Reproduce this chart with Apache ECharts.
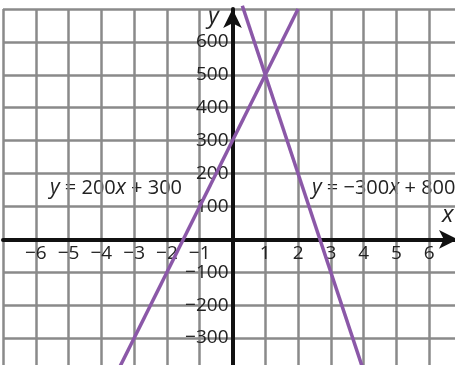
<!DOCTYPE html>
<html>
<head>
<meta charset="utf-8">
<script src="https://cdn.jsdelivr.net/npm/echarts@6/dist/echarts.min.js"></script>
<style>
  html, body { margin: 0; padding: 0; background: #fff; }
  #chart { width: 455px; height: 365px; }
</style>
</head>
<body>
<div id="chart"></div>
<script>
  // 两条直线的数据（从图上读出的端点）
  var line1 = [[-3.5, -400], [2, 700]];      // y = 200x + 300
  var line2 = [[0.3, 710], [4, -400]];       // y = -300x + 800
  var xRange = [-7, 7];
  var yRange = [-400, 700];
  var hiddenX = [0, -7, 7];
  var hiddenY = [0, 700, -400];

  var chart = echarts.init(document.getElementById('chart'));

  function minus(v) {
    return String(v).replace('-', '\u2212');
  }

  var font = '"Open Sans", "Noto Sans", sans-serif';
  var purple = '#8b58a8';
  var gridW = 459, gridH = 362;
  // 让坐标轴画在 0 处（offset 往外为正，这里往里移所以取负）
  var xAxisOffset = -gridH * (0 - yRange[0]) / (yRange[1] - yRange[0]);
  var yAxisOffset = -gridW * (0 - xRange[0]) / (xRange[1] - xRange[0]);

  var option = {
    animation: false,
    grid: { left: 3, top: 9, width: gridW, height: gridH, containLabel: false, outerBoundsMode: 'none' },
    xAxis: {
      type: 'value',
      min: xRange[0], max: xRange[1], interval: 1,
      position: 'bottom',
      offset: xAxisOffset,
      axisLine: {
        onZero: false,
        lineStyle: { color: '#111', width: 4 },
        symbol: ['none', 'arrow'],
        symbolSize: [14, 19],
        symbolOffset: [0, -4]
      },
      axisTick: { show: false },
      axisLabel: {
        margin: 5,
        fontSize: 19,
        fontFamily: font,
        color: '#222',
        formatter: function (v) { return hiddenX.indexOf(v) >= 0 ? '' : minus(v); }
      },
      splitLine: { lineStyle: { color: '#8a8a8a', width: 2.5 } }
    },
    yAxis: {
      type: 'value',
      min: yRange[0], max: yRange[1], interval: 100,
      position: 'left',
      offset: yAxisOffset,
      axisLine: {
        onZero: false,
        lineStyle: { color: '#111', width: 4 },
        symbol: ['none', 'arrow'],
        symbolSize: [14, 19]
      },
      axisTick: { show: false },
      axisLabel: {
        margin: 4,
        fontSize: 19,
        fontFamily: font,
        color: '#222',
        formatter: function (v) { return hiddenY.indexOf(v) >= 0 ? '' : minus(v); }
      },
      splitLine: { lineStyle: { color: '#8a8a8a', width: 2.5 } }
    },
    series: [
      {
        type: 'line', data: line1, symbol: 'none', clip: false,
        lineStyle: { color: purple, width: 3.5 }, z: 1
      },
      {
        type: 'line', data: line2, symbol: 'none', clip: false,
        lineStyle: { color: purple, width: 3.5 }, z: 1
      }
    ],
    graphic: [
      {
        type: 'text', left: 50, top: 178,
        style: {
          text: '{i|y} = 200{i|x} + 300',
          fontSize: 20, fontFamily: font, fill: '#222',
          rich: { i: { fontStyle: 'italic', fontSize: 21, fontFamily: font } }
        }
      },
      {
        type: 'text', left: 312, top: 178,
        style: {
          text: '{i|y} = \u2212300{i|x} + 800',
          fontSize: 20, fontFamily: font, fill: '#222',
          rich: { i: { fontStyle: 'italic', fontSize: 21, fontFamily: font } }
        }
      },
      {
        type: 'text', left: 208, top: 4,
        style: { text: 'y', fontSize: 24, fontStyle: 'italic', fontFamily: font, fill: '#222' }
      },
      {
        type: 'text', left: 442, top: 203,
        style: { text: 'x', fontSize: 24, fontStyle: 'italic', fontFamily: font, fill: '#222' }
      }
    ]
  };

  chart.setOption(option);
</script>
</body>
</html>
